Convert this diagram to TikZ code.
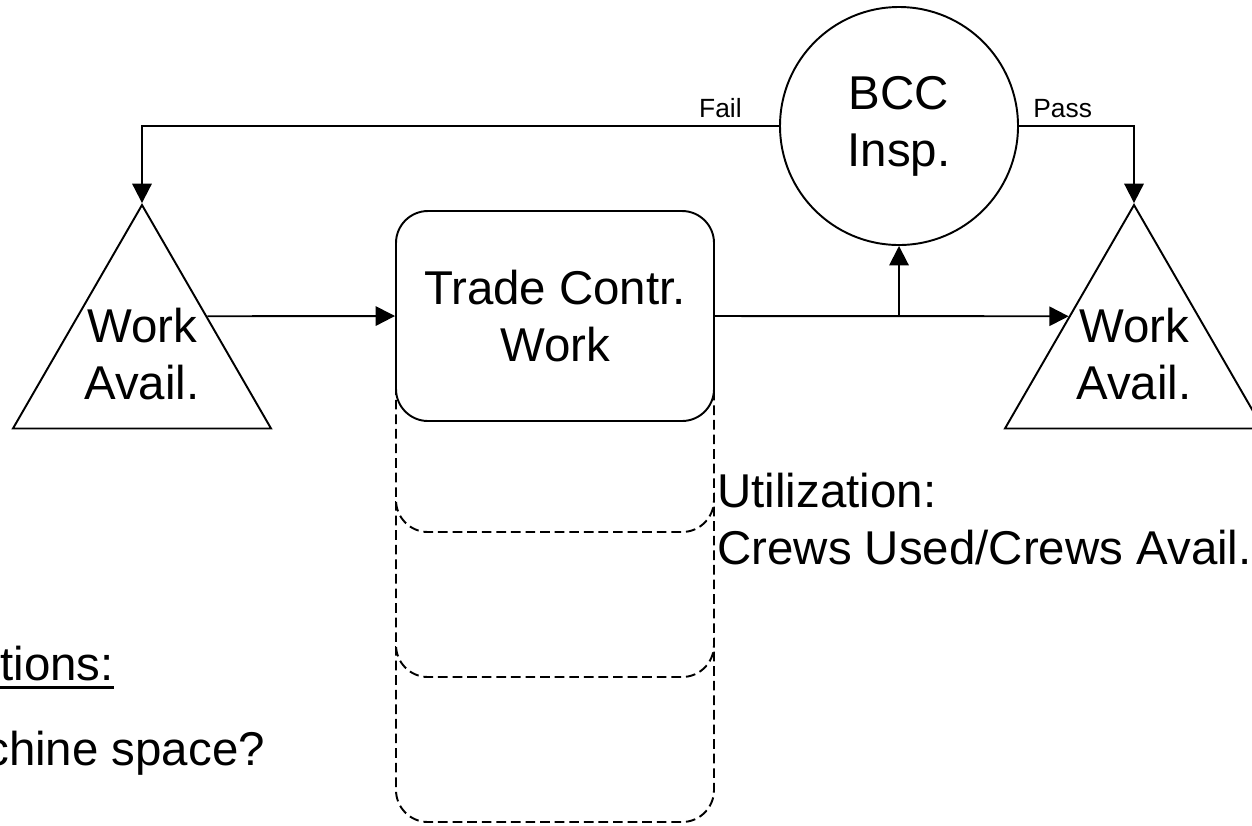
\documentclass[tikz,border=0pt]{standalone}
\usepackage{fontspec}
\setmainfont{Liberation Sans}
\usepackage{tikz}
\usetikzlibrary{arrows.meta,shapes.geometric}
\newcommand{\ulbar}[1]{\setbox0\hbox{#1}\rlap{\rule[-4.85pt]{\wd0}{1.7pt}}\box0}
\tikzstyle{flow} = [line width=1.1pt,-{Triangle[length=11pt,width=11pt]}]
\tikzstyle{crew} = [rectangle, rounded corners=0.64cm, minimum width=6.36cm, minimum height=4.2cm, draw, fill=white, line width=1.1pt, align=center, font=\fontsize{27}{32.4}\selectfont]

\begin{document}
\begin{tikzpicture}[
    stock/.style={regular polygon, regular polygon sides=3, minimum size=5.96cm, inner sep=0pt, draw, line width=1.1pt},
    inspect/.style={circle, minimum size=4.76cm, inner sep=0pt, draw, line width=1.1pt, align=center, font=\fontsize{27}{32.4}\selectfont},
    spare/.style={crew, dash pattern=on 5.5pt off 2.8pt},
    note/.style={inner sep=0pt, align=left, font=\fontsize{27}{32.4}\selectfont},
    tag/.style={inner sep=0pt, font=\fontsize{15}{18}\selectfont}]

\useasboundingbox (0,0) rectangle (25.04,-16.5);

% Spare crews (back to front)
\node[spare] (spare3) at (11.1,-14.34) {};
\node[spare] (spare2) at (11.1,-11.44) {};
\node[spare] (spare1) at (11.1,-8.54) {};

% Main process
\node[crew] (trade) at (11.1,-6.32) {Trade Contr.\\Work};
\node[inspect] (bcc) at (17.98,-2.52) {BCC\\Insp.};

% Work available
\node[stock, label={[note, align=center]center:{Work\\Avail.}}] (availL) at (2.84,-7.08) {};
\node[stock, label={[note, align=center]center:{Work\\Avail.}}] (availR) at (22.68,-7.08) {};

% Split point under the inspection
\coordinate (split) at (bcc.south |- trade.east);

% Connections
\draw[flow] (availL.side 3) -- (trade.west);
\draw[flow] (trade.east) -- (availR.side 1);
\draw[flow] (split) -- (bcc.south);
\draw[flow] (bcc.west) -| (availL.corner 1);
\draw[flow] (bcc.east) -| (availR.corner 1);

% Labels
\node[tag, anchor=base east] (fail) at (14.84,-2.34) {Fail};
\node[tag, anchor=base west] (pass) at (20.66,-2.34) {Pass};
\node[note, anchor=base west] (util) at (14.34,-11.28) {Utilization:\\Crews Used/Crews Avail.};
\node[note, anchor=base west] (quest) at (0,-13.6) {\ulbar{tions:}};
\node[note, anchor=base west] (space) at (-0.3,-15.3) {chine space?};
\end{tikzpicture}
\end{document}
